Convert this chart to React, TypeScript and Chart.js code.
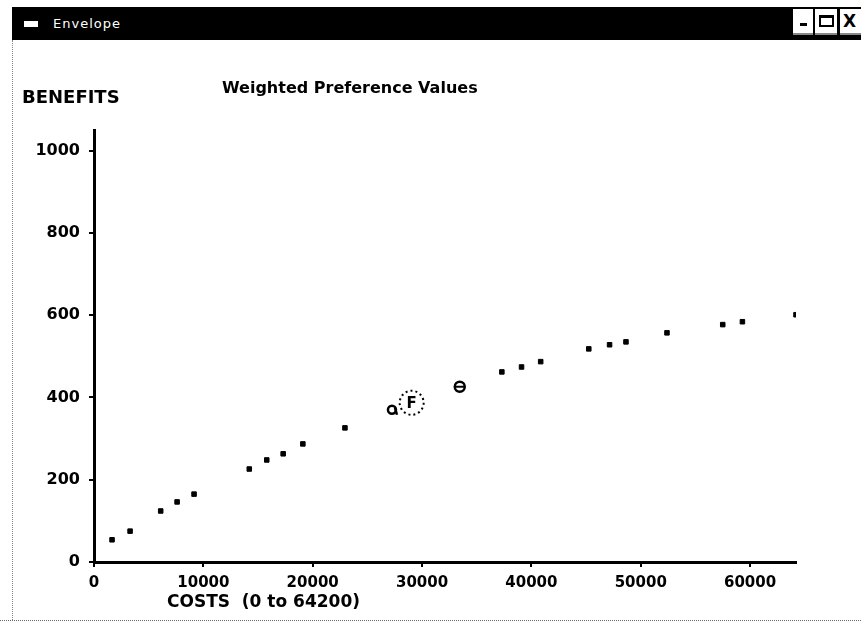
import { useEffect, useRef } from "react";
import { Chart, registerables } from "chart.js";

Chart.register(...registerables);

// Data
const costs = [
  1650, 3300, 6100, 7600, 9150, 14200, 15800, 17300, 19100, 22950,
  27250, 29050, 33450, 37300, 39100, 40850, 45250, 47150, 48650, 52400,
  57500, 59300, 64200,
];
const benefits = [
  54, 75, 124, 146, 165, 226, 248, 263, 287, 326,
  370, 387, 426, 462, 474, 487, 518, 528, 535, 557,
  577, 584, 601,
];
const xTickValues = [0, 10000, 20000, 30000, 40000, 50000, 60000];
const yTickValues = [0, 200, 400, 600, 800, 1000];
const xMax = 64200;
const yMax = 1050;
const gIndex = 10; // "a"-shaped marker
const fIndex = 11; // circled "F" marker
const thetaIndex = 12; // circled theta marker

const chartTitle = "Weighted Preference Values";
const yTitle = "BENEFITS";
const xTitle = "COSTS  (0 to 64200)";
const windowTitle = "Envelope";

const FONT = "'DejaVu Sans', 'Liberation Sans', sans-serif";

const markerPlugin = {
  id: "markerPlugin",
  afterDatasetsDraw(chart: any) {
    const meta = chart.getDatasetMeta(0);
    const ctx = chart.ctx;
    ctx.save();
    const f = meta.data[fIndex];
    if (f) {
      ctx.strokeStyle = "#000";
      ctx.lineWidth = 2;
      ctx.setLineDash([2, 3]);
      ctx.beginPath();
      ctx.arc(f.x, f.y, 12, 0, Math.PI * 2);
      ctx.stroke();
      ctx.setLineDash([]);
      ctx.fillStyle = "#000";
      ctx.font = `bold 15px ${FONT}`;
      ctx.textAlign = "center";
      ctx.textBaseline = "middle";
      ctx.fillText("F", f.x, f.y + 1);
    }
    const t = meta.data[thetaIndex];
    if (t) {
      ctx.strokeStyle = "#000";
      ctx.lineWidth = 2;
      ctx.beginPath();
      ctx.moveTo(t.x - 5, t.y);
      ctx.lineTo(t.x + 5, t.y);
      ctx.stroke();
    }
    const g = meta.data[gIndex];
    if (g) {
      ctx.strokeStyle = "#000";
      ctx.lineWidth = 2.5;
      ctx.beginPath();
      ctx.moveTo(g.x + 3, g.y - 2);
      ctx.lineTo(g.x + 5, g.y + 5);
      ctx.stroke();
    }
    ctx.restore();
  },
};

export default function App() {
  const canvasRef = useRef<HTMLCanvasElement | null>(null);

  useEffect(() => {
    if (!canvasRef.current) return;
    const tickFontY = { family: FONT, weight: "bold" as const, size: 16 };
    const tickFontX = { family: FONT, weight: "bold" as const, size: 15 };
    const chart = new Chart(canvasRef.current, {
      type: "scatter",
      data: {
        datasets: [
          {
            data: costs.map((c, i) => ({ x: c, y: benefits[i] })),
            pointStyle: (ctx: any) =>
              ctx.dataIndex === gIndex || ctx.dataIndex === thetaIndex ? "circle" : "rect",
            pointRadius: (ctx: any) =>
              ctx.dataIndex === fIndex ? 0 : ctx.dataIndex === thetaIndex ? 5 : ctx.dataIndex === gIndex ? 4 : 3.2,
            pointBorderWidth: (ctx: any) =>
              ctx.dataIndex === thetaIndex || ctx.dataIndex === gIndex ? 2.5 : 1,
            pointBackgroundColor: (ctx: any) =>
              ctx.dataIndex === thetaIndex || ctx.dataIndex === gIndex ? "#fff" : "#000",
            pointBorderColor: "#000",
            showLine: false,
          } as any,
        ],
      },
      options: {
        animation: false,
        responsive: false,
        layout: { padding: { left: 0, right: 65, top: 130, bottom: 0 } },
        plugins: {
          legend: { display: false },
          tooltip: { enabled: false },
          title: { display: false },
        },
        scales: {
          x: {
            type: "linear",
            min: 0,
            max: xMax,
            afterBuildTicks: (s: any) => {
              s.ticks = xTickValues.map((v) => ({ value: v }));
            },
            afterFit: (s: any) => {
              s.height = 61;
              s.paddingLeft = 0;
              s.paddingRight = 0;
            },
            ticks: {
              color: "#000",
              font: tickFontX,
              padding: 7,
              maxRotation: 0,
              autoSkip: false,
              callback: (v: any) => String(v),
            },
            grid: {
              drawOnChartArea: false,
              drawTicks: true,
              tickLength: 5,
              color: "#000",
              lineWidth: 2,
            },
            border: { display: true, color: "#000", width: 3 },
          },
          y: {
            type: "linear",
            min: 0,
            max: yMax,
            afterBuildTicks: (s: any) => {
              s.ticks = yTickValues.map((v) => ({ value: v }));
            },
            afterFit: (s: any) => {
              s.width = 94;
              s.paddingTop = 0;
              s.paddingBottom = 0;
            },
            ticks: {
              color: "#000",
              font: tickFontY,
              padding: 9,
              autoSkip: false,
              callback: (v: any) => String(v),
            },
            grid: {
              drawOnChartArea: false,
              drawTicks: true,
              tickLength: 5,
              color: "#000",
              lineWidth: 2,
            },
            border: { display: true, color: "#000", width: 3 },
          },
        },
      },
      plugins: [markerPlugin],
    });
    return () => chart.destroy();
  }, []);

  const abs = (s: any) => ({ position: "absolute" as const, ...s });

  return (
    <div
      style={{
        position: "fixed",
        left: 0,
        top: 0,
        width: 861,
        height: 623,
        background: "#fff",
        overflow: "hidden",
        fontFamily: FONT,
      }}
    >
      {/* window title bar */}
      <div style={abs({ left: 12, top: 7, width: 849, height: 33, background: "#000" })} />
      <div style={abs({ left: 24, top: 21, width: 14, height: 6, background: "#fff" })} />
      <div
        style={abs({
          left: 53,
          top: 16,
          color: "#fff",
          fontSize: 13,
          lineHeight: "16px",
          letterSpacing: "1px",
          whiteSpace: "pre",
        })}
      >
        {windowTitle}
      </div>
      {/* buttons */}
      <div style={abs({ left: 793, top: 9, width: 20, height: 24, background: "#fff", borderBottom: "2px solid #888" })} />
      <div style={abs({ left: 800, top: 23, width: 7, height: 3, background: "#000" })} />
      <div style={abs({ left: 815, top: 9, width: 22, height: 24, background: "#fff", borderBottom: "2px solid #888" })} />
      <div
        style={abs({
          left: 819,
          top: 15,
          width: 11,
          height: 7,
          borderTop: "3px solid #000",
          borderLeft: "2px solid #000",
          borderRight: "2px solid #000",
          borderBottom: "2px solid #000",
        })}
      />
      <div style={abs({ left: 840, top: 9, width: 21, height: 24, background: "#fff", borderBottom: "2px solid #888" })} />
      <div
        style={abs({
          left: 843,
          top: 12,
          fontSize: 17,
          fontWeight: "bold",
          lineHeight: "18px",
          color: "#000",
        })}
      >
        X
      </div>
      {/* window frame lines */}
      <div style={abs({ left: 12, top: 40, width: 0, height: 580, borderLeft: "1px dotted #888" })} />
      <div style={abs({ left: 0, top: 620, width: 861, height: 0, borderTop: "1px dotted #666" })} />

      <canvas
        ref={canvasRef}
        width={861}
        height={623}
        style={abs({ left: 0, top: 0, width: 861, height: 623, display: "block" })}
      />

      {/* texts */}
      <div
        style={abs({
          left: 222,
          top: 80,
          fontSize: 16,
          fontWeight: "bold",
          lineHeight: 1,
          color: "#000",
          whiteSpace: "pre",
        })}
      >
        {chartTitle}
      </div>
      <div
        style={abs({
          left: 22,
          top: 88,
          fontSize: 18,
          fontWeight: "bold",
          lineHeight: 1,
          color: "#000",
          whiteSpace: "pre",
        })}
      >
        {yTitle}
      </div>
      <div
        style={abs({
          left: 167,
          top: 593,
          fontSize: 17,
          fontWeight: "bold",
          lineHeight: 1,
          color: "#000",
          whiteSpace: "pre",
        })}
      >
        {xTitle}
      </div>
    </div>
  );
}
